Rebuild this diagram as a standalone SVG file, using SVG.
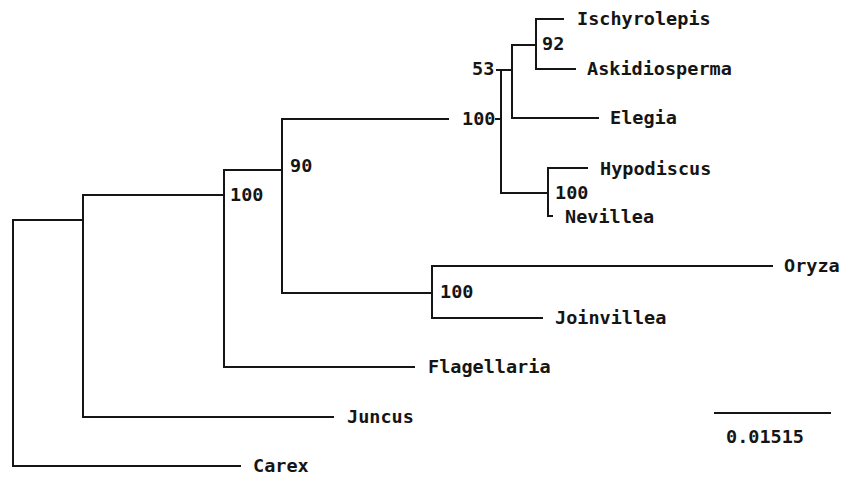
<svg xmlns="http://www.w3.org/2000/svg" width="842" height="478" viewBox="0 0 842 478">
<style>
text{font-family:"DejaVu Sans Mono","Liberation Mono",monospace;font-weight:bold;font-size:18.5px;fill:#151515}
.b{stroke:#151515;stroke-width:2;fill:none;stroke-linecap:square}
</style>
<rect width="842" height="478" fill="#ffffff"/>
<g id="connectors" class="b">
<path d="M13 220V466H240"/>
<path d="M13 220H83"/>
<path d="M83 195V417H333"/>
<path d="M83 195H224"/>
<path d="M224 170V367H414"/>
<path d="M224 170H282"/>
<path d="M282 119V293H432"/>
<path d="M282 119H448"/>
<path d="M432 266V318H542"/>
<path d="M432 266H772"/>
<path d="M496 119H501"/>
<path d="M501 70V193H548"/>
<path d="M497 70H512"/>
<path d="M512 45V118H598"/>
<path d="M512 45H536"/>
<path d="M536 19V69H575"/>
<path d="M536 19H563"/>
<path d="M548 168V216H552"/>
<path d="M548 168H587"/>
<path d="M715 413H830"/>
</g>
<g id="carex"><text x="253" y="472">Carex</text></g>
<g id="juncus"><text x="347" y="423">Juncus</text></g>
<g id="flagellaria"><text x="428" y="373">Flagellaria</text></g>
<g id="oryza"><text x="784" y="272">Oryza</text></g>
<g id="joinvillea"><text x="555" y="324">Joinvillea</text></g>
<g id="ischyrolepis"><text x="577" y="25">Ischyrolepis</text></g>
<g id="askidiosperma"><text x="587" y="75">Askidiosperma</text></g>
<g id="elegia"><text x="610" y="124">Elegia</text></g>
<g id="hypodiscus"><text x="600" y="175">Hypodiscus</text></g>
<g id="nevillea"><text x="565" y="223">Nevillea</text></g>
<g id="node-b"><text x="230" y="201">100</text></g>
<g id="node-c"><text x="290" y="172">90</text></g>
<g id="node-d"><text x="440" y="298">100</text></g>
<g id="node-e"><text x="462" y="125">100</text></g>
<g id="node-f"><text x="472" y="75">53</text></g>
<g id="node-g"><text x="542" y="50">92</text></g>
<g id="node-h"><text x="555" y="199">100</text></g>
<g id="scale"><text x="726" y="443">0.01515</text></g>
</svg>
